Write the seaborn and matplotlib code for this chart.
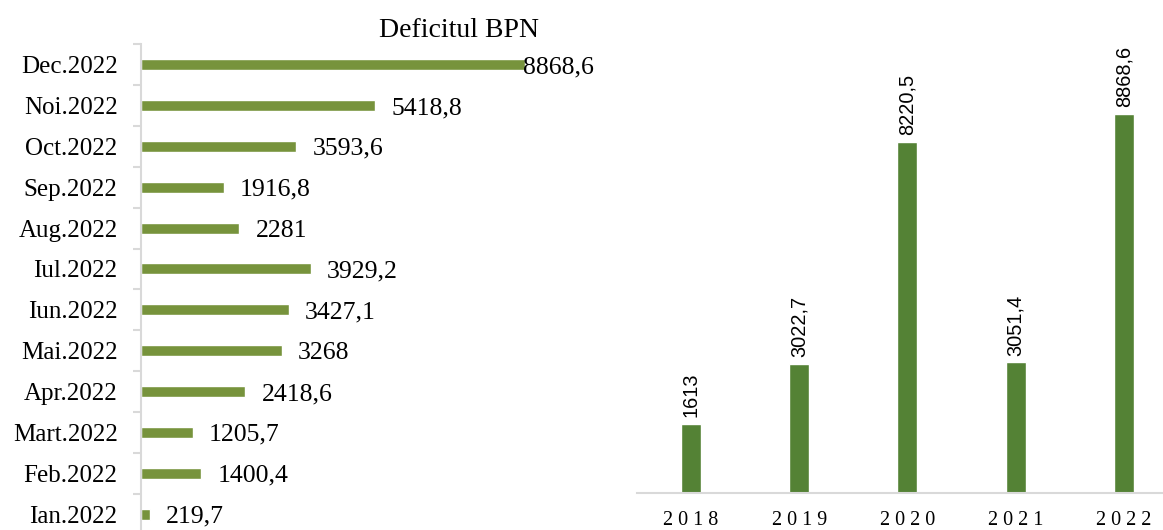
import matplotlib
matplotlib.use('Agg')
import matplotlib.pyplot as plt
import seaborn as sns
import pandas as pd

# data
months = ['Dec.2022', 'Noi.2022', 'Oct.2022', 'Sep.2022', 'Aug.2022', 'Iul.2022',
          'Iun.2022', 'Mai.2022', 'Apr.2022', 'Mart.2022', 'Feb.2022', 'Ian.2022']
month_vals = [8868.6, 5418.8, 3593.6, 1916.8, 2281, 3929.2,
              3427.1, 3268, 2418.6, 1205.7, 1400.4, 219.7]
years = ['2018', '2019', '2020', '2021', '2022']
year_vals = [1613, 3022.7, 8220.5, 3051.4, 8868.6]

sns.set_style('white')
plt.rcParams['font.family'] = ['Liberation Serif', 'DejaVu Serif']
plt.rcParams['text.color'] = 'black'
plt.rcParams['xtick.color'] = 'black'
plt.rcParams['ytick.color'] = 'black'

W, H = 1163, 530
fig = plt.figure(figsize=(W / 100, H / 100), dpi=100)

def fmt(v):
    s = f'{v:.1f}'.rstrip('0').rstrip('.')
    return s.replace('.', ',')

# %% left panel - monthly
ax1 = fig.add_axes([140.7 / W, 0, (600 - 140.7) / W, (H - 44.3) / H])
df_m = pd.DataFrame({'month': months, 'val': month_vals})
sns.barplot(data=df_m, x='val', y='month', order=months, color='#77933C',
            width=0.27, saturation=1, ax=ax1)
ax1.set_xlim(0, (600 - 140.7) / 0.0433)
ax1.set_ylim(11.39, -0.5)
ax1.set_xlabel('')
ax1.set_ylabel('')
ax1.set_xticks([])
for s in ['top', 'right', 'bottom']:
    ax1.spines[s].set_visible(False)
ax1.spines['left'].set_color('#D9D9D9')
ax1.spines['left'].set_linewidth(1.5)
ax1.set_yticks(range(len(months)))
ax1.set_yticklabels(months, fontsize=18)
ax1.set_yticks([i - 0.5 for i in range(len(months))], minor=True)
ax1.tick_params(axis='y', which='major', left=True, length=0, pad=16.6)
ax1.tick_params(axis='y', which='minor', left=True, length=6, width=1.5,
                color='#D9D9D9', direction='out')
vmax = max(month_vals)
for i, v in enumerate(month_vals):
    off = 11.5 if v < vmax else -1.5
    ax1.annotate(fmt(v), (v, i), xytext=(off, 0), textcoords='offset points',
                 ha='left', va='center_baseline', fontsize=18.5)

fig.text(459 / W, 1 - 37 / H, 'Deficitul BPN', ha='center', va='baseline', fontsize=20)

# %% right panel - yearly
base = 492.7
ax2 = fig.add_axes([636.7 / W, (H - base) / H, (W - 636.7) / W, base / H])
df_y = pd.DataFrame({'year': years, 'val': year_vals})
sns.barplot(data=df_y, x='year', y='val', order=years, color='#548235',
            width=0.185, saturation=1, ax=ax2)
ax2.set_xlim(-0.5, 4 + (W - 1124) / 108.25)
ax2.set_ylim(0, base / 0.04267)
ax2.set_xlabel('')
ax2.set_ylabel('')
ax2.set_yticks([])
for s in ['top', 'right', 'left']:
    ax2.spines[s].set_visible(False)
ax2.spines['bottom'].set_color('#D9D9D9')
ax2.spines['bottom'].set_linewidth(1.5)
ax2.set_xticks(range(len(years)))
ax2.set_xticklabels([' '.join(y) for y in years], fontsize=14.5)
ax2.tick_params(axis='x', length=0, pad=13)
for i, v in enumerate(year_vals):
    ax2.annotate(fmt(v), (i, v), xytext=(0, 5), textcoords='offset points',
                 ha='center', va='bottom', rotation=90, fontsize=14.4,
                 family=['Liberation Sans', 'DejaVu Sans'])

fig.savefig('out.png', dpi=100)
